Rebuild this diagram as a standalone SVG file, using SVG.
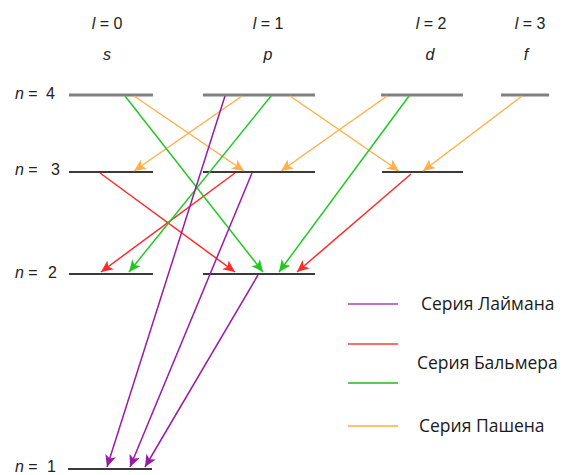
<svg xmlns="http://www.w3.org/2000/svg" width="575" height="475" viewBox="0 0 575 475">
<style>
.lbl{font-family:"Liberation Sans",Arial,sans-serif;font-size:16px;fill:#222}
.it{font-style:italic}
.leg{font-family:"Open Sans","Liberation Sans",sans-serif;font-size:17.5px;fill:#1a1a1a}
.lv4{stroke:#808080;stroke-width:3}
.lv{stroke:#3a3a3a;stroke-width:2}
.c{fill:none;stroke-width:1.5}
.ly{stroke:#9a1aa8;marker-end:url(#mP)}
.ba{stroke:#ff2a2a;marker-end:url(#mR)}
.gr{stroke:#22c822;marker-end:url(#mG)}
.pa{stroke:#ffb04a;marker-end:url(#mO)}
</style>
<defs>
<marker id="mP" markerUnits="userSpaceOnUse" markerWidth="14" markerHeight="12" refX="12" refY="5.5" orient="auto"><path d="M0,0 L12,5.5 L0,11 L3,5.5 z" fill="#9a1aa8"/></marker>
<marker id="mR" markerUnits="userSpaceOnUse" markerWidth="14" markerHeight="12" refX="12" refY="5.5" orient="auto"><path d="M0,0 L12,5.5 L0,11 L3,5.5 z" fill="#ff2a2a"/></marker>
<marker id="mG" markerUnits="userSpaceOnUse" markerWidth="14" markerHeight="12" refX="12" refY="5.5" orient="auto"><path d="M0,0 L12,5.5 L0,11 L3,5.5 z" fill="#22c822"/></marker>
<marker id="mO" markerUnits="userSpaceOnUse" markerWidth="14" markerHeight="12" refX="12" refY="5.5" orient="auto"><path d="M0,0 L12,5.5 L0,11 L3,5.5 z" fill="#ffb04a"/></marker>
</defs>
<rect width="575" height="475" fill="#fff"/>
<g id="headers">
<text class="lbl" x="107" y="29" text-anchor="middle"><tspan class="it">l</tspan> = 0</text>
<text class="lbl" x="268" y="29" text-anchor="middle"><tspan class="it">l</tspan> = 1</text>
<text class="lbl" x="431" y="29" text-anchor="middle"><tspan class="it">l</tspan> = 2</text>
<text class="lbl" x="530" y="29" text-anchor="middle"><tspan class="it">l</tspan> = 3</text>
<text class="lbl it" x="107" y="60" text-anchor="middle">s</text>
<text class="lbl it" x="268" y="60" text-anchor="middle">p</text>
<text class="lbl it" x="430" y="60" text-anchor="middle">d</text>
<text class="lbl it" x="526" y="60" text-anchor="middle">f</text>
</g>
<g id="level-n4">
<text class="lbl" x="15" y="99"><tspan class="it">n</tspan> =</text><text class="lbl" x="46" y="99">4</text>
<line class="lv4" x1="69" y1="95" x2="153" y2="95"/>
<line class="lv4" x1="203" y1="95" x2="315" y2="95"/>
<line class="lv4" x1="381" y1="95" x2="463" y2="95"/>
<line class="lv4" x1="501" y1="95" x2="549" y2="95"/>
</g>
<g id="level-n3">
<text class="lbl" x="15" y="175"><tspan class="it">n</tspan> =</text><text class="lbl" x="51" y="175">3</text>
<line class="lv" x1="69" y1="172" x2="153" y2="172"/>
<line class="lv" x1="203" y1="172" x2="315" y2="172"/>
<line class="lv" x1="382" y1="172" x2="463" y2="172"/>
</g>
<g id="level-n2">
<text class="lbl" x="15" y="278"><tspan class="it">n</tspan> =</text><text class="lbl" x="48" y="278">2</text>
<line class="lv" x1="69" y1="274" x2="153" y2="274"/>
<line class="lv" x1="203" y1="274" x2="315" y2="274"/>
</g>
<g id="level-n1">
<text class="lbl" x="15" y="472"><tspan class="it">n</tspan> =</text><text class="lbl" x="47" y="472">1</text>
<line class="lv" x1="68" y1="469" x2="152" y2="469"/>
</g>
<g id="connectors">
<line class="c pa" x1="134" y1="96" x2="244" y2="171"/>
<line class="c pa" x1="242" y1="96" x2="134" y2="171"/>
<line class="c pa" x1="290" y1="96" x2="399" y2="171"/>
<line class="c pa" x1="387" y1="96" x2="281" y2="171"/>
<line class="c pa" x1="522" y1="96" x2="423" y2="171"/>
<line class="c ba" x1="100" y1="173" x2="235" y2="272"/>
<line class="c ba" x1="235" y1="173" x2="101" y2="272"/>
<line class="c ba" x1="411" y1="174" x2="297" y2="272"/>
<line class="c gr" x1="125" y1="96" x2="263" y2="272"/>
<line class="c gr" x1="271" y1="96" x2="129" y2="272"/>
<line class="c gr" x1="409" y1="96" x2="279" y2="272"/>
<line class="c ly" x1="225" y1="96" x2="107" y2="467"/>
<line class="c ly" x1="252" y1="173" x2="130" y2="467"/>
<line class="c ly" x1="258" y1="275" x2="145" y2="467"/>
</g>
<g id="legend">
<line x1="348" y1="304" x2="398" y2="304" stroke="#c070c8" stroke-width="2"/>
<line x1="348" y1="344" x2="398" y2="344" stroke="#ff6a6a" stroke-width="2"/>
<line x1="348" y1="383" x2="398" y2="383" stroke="#55cc55" stroke-width="2"/>
<line x1="348" y1="426" x2="398" y2="426" stroke="#ffc070" stroke-width="2"/>
<text class="leg" x="421" y="310">Серия Лаймана</text>
<text class="leg" x="417" y="369">Серия Бальмера</text>
<text class="leg" x="419" y="432">Серия Пашена</text>
</g>
</svg>
